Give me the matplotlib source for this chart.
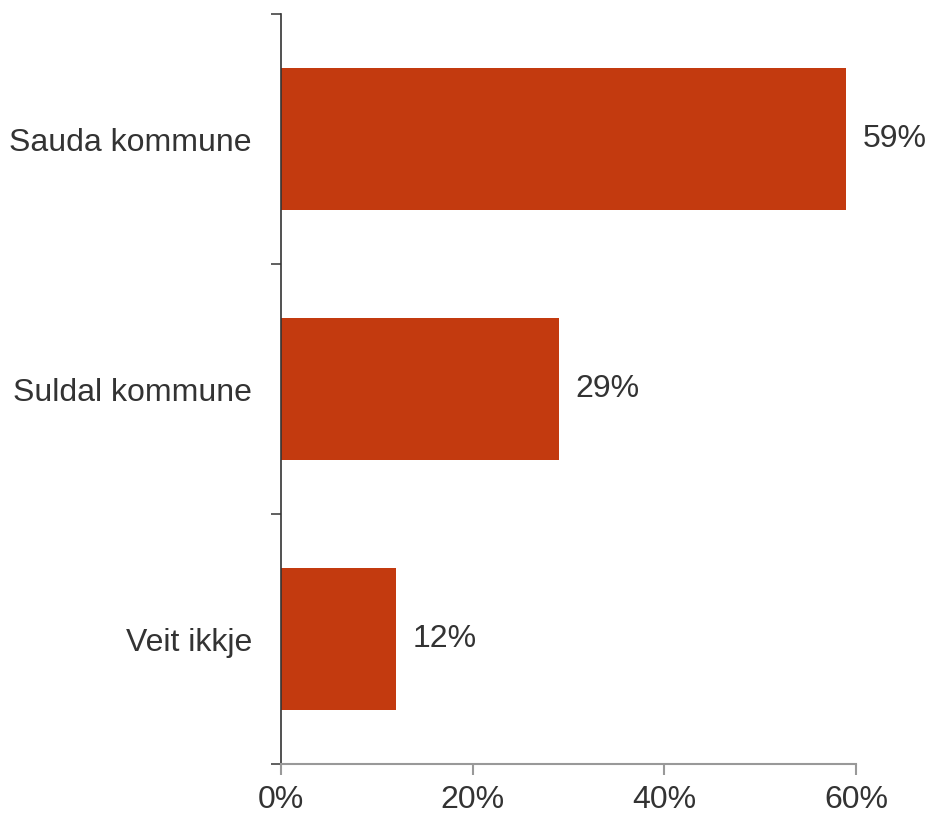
import matplotlib.pyplot as plt
from matplotlib.ticker import FixedLocator

categories = ["Sauda kommune", "Suldal kommune", "Veit ikkje"]
values = [59, 29, 12]
x_ticks = [0, 20, 40, 60]
x_tick_labels = ["0%", "20%", "40%", "60%"]

plt.rcParams["font.family"] = ["Liberation Sans", "DejaVu Sans"]
text_color = "#333333"
bar_color = "#C33A0F"

fig = plt.figure(figsize=(9.3, 8.16), dpi=100)
ax = fig.add_axes([0.3022, 0.0637, 0.6183, 0.9191])

positions = list(range(len(categories)))
ax.barh(positions, values, height=0.57, color=bar_color)
for pos, val in zip(positions, values):
    ax.text(val + 1.7, pos, f"{val}%", va="center", ha="left",
            fontsize=23, color=text_color)

ax.set_xlim(0, 60)
ax.set_ylim(len(categories) - 0.5, -0.5)
ax.set_xticks(x_ticks)
ax.set_xticklabels(x_tick_labels, fontsize=23, color=text_color)
ax.set_yticks(positions)
ax.set_yticklabels(categories, fontsize=23, color=text_color)

ax.tick_params(axis="y", which="major", length=0, pad=21)
ax.yaxis.set_minor_locator(FixedLocator([-0.5, 0.5, 1.5, 2.5]))
ax.tick_params(axis="y", which="minor", length=7, width=1.2, color="#444444")
ax.tick_params(axis="x", length=8, width=1.5, color="#999999", pad=7)

for side in ["top", "right"]:
    ax.spines[side].set_visible(False)
ax.spines["left"].set_color("#333333")
ax.spines["left"].set_linewidth(1.2)
ax.spines["bottom"].set_color("#999999")
ax.spines["bottom"].set_linewidth(1.5)

fig.savefig("out.png", dpi=100)
